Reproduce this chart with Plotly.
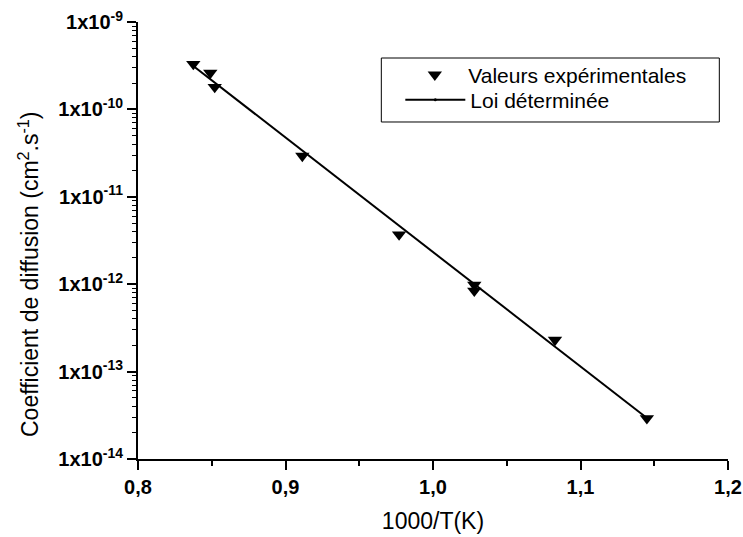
import plotly.graph_objects as go

# Experimental diffusion coefficients vs inverse temperature
inv_T = [0.8375, 0.849, 0.852, 0.9114, 0.977, 1.028, 1.028, 1.0827, 1.145]
D_exp = [3.30e-10, 2.61e-10, 1.80e-10, 2.93e-11, 3.70e-12, 9.8e-13, 8.4e-13, 2.30e-13, 2.92e-14]

# Fitted Arrhenius law (end points of the straight line in log scale)
fit_inv_T = [0.8375, 1.145]
fit_D = [3.14e-10, 2.94e-14]

x_ticks = [0.8, 0.9, 1.0, 1.1, 1.2]
x_ticktext = ["0,8", "0,9", "1,0", "1,1", "1,2"]
y_ticks = [1e-14, 1e-13, 1e-12, 1e-11, 1e-10, 1e-9]
y_exponents = [-14, -13, -12, -11, -10, -9]
y_ticktext = ["<b>1x10<sup>%d</sup></b>" % e for e in y_exponents]

FONT = "Liberation Sans, Arial, sans-serif"

fig = go.Figure()
fig.add_trace(go.Scatter(
    x=inv_T, y=D_exp, mode="markers", name="Valeurs expérimentales",
    marker=dict(symbol="triangle-down", size=12.5, color="black",
                line=dict(width=0)),
    legend="legend",
))
fig.add_trace(go.Scatter(
    x=fit_inv_T, y=fit_D, mode="lines+markers", name="Loi déterminée",
    line=dict(color="black", width=2),
    marker=dict(size=3, color="black"),
    legend="legend2",
))

axis_common = dict(
    showgrid=False, zeroline=False, showline=True, linecolor="black",
    linewidth=2, ticks="outside", ticklen=9, tickwidth=1.5,
    tickcolor="black", mirror=False, automargin=False,
    tickfont=dict(family=FONT, size=20, color="black"),
)

legend_common = dict(
    xanchor="left", yanchor="middle", borderwidth=0,
    bgcolor="rgba(0,0,0,0)",
    font=dict(family=FONT, size=21, color="black"),
)

fig.update_layout(
    width=743, height=537,
    margin=dict(l=138, r=15, t=22, b=78),
    paper_bgcolor="white", plot_bgcolor="white",
    font=dict(family=FONT, color="black"),
    xaxis=dict(
        range=[0.8, 1.2], tickvals=x_ticks,
        ticktext=["<b>%s</b>" % t for t in x_ticktext],
        title=dict(text="1000/T(K)", font=dict(family=FONT, size=23), standoff=16),
        minor=dict(ticks="outside", dtick=0.05, ticklen=5, tickwidth=1.5,
                   tickcolor="black", showgrid=False),
        **axis_common,
    ),
    yaxis=dict(
        type="log", range=[-14, -9], tickvals=y_ticks, ticktext=y_ticktext,
        minor=dict(ticks="outside", dtick="D1", ticklen=4, tickwidth=1.2,
                   tickcolor="black", showgrid=False),
        **axis_common,
    ),
    annotations=[dict(
        text="Coefficient de diffusion (cm<sup>2</sup>.s<sup>-1</sup>)",
        xref="paper", yref="paper", x=-0.185, y=0.423,
        xanchor="center", yanchor="middle", textangle=-90, showarrow=False,
        font=dict(family=FONT, size=23, color="black"),
    )],
    # frame around the two legend entries
    shapes=[dict(
        type="rect", xref="paper", yref="paper",
        x0=0.4124, x1=0.9853, y0=0.7712, y1=0.9176,
        line=dict(color="black", width=1), fillcolor="white", layer="above",
    )],
    legend=dict(x=0.4463, y=0.8787, itemwidth=57, **legend_common),
    legend2=dict(x=0.4446, y=0.8215, itemwidth=60, **legend_common),
    showlegend=True,
)

fig.write_html("out.html")
